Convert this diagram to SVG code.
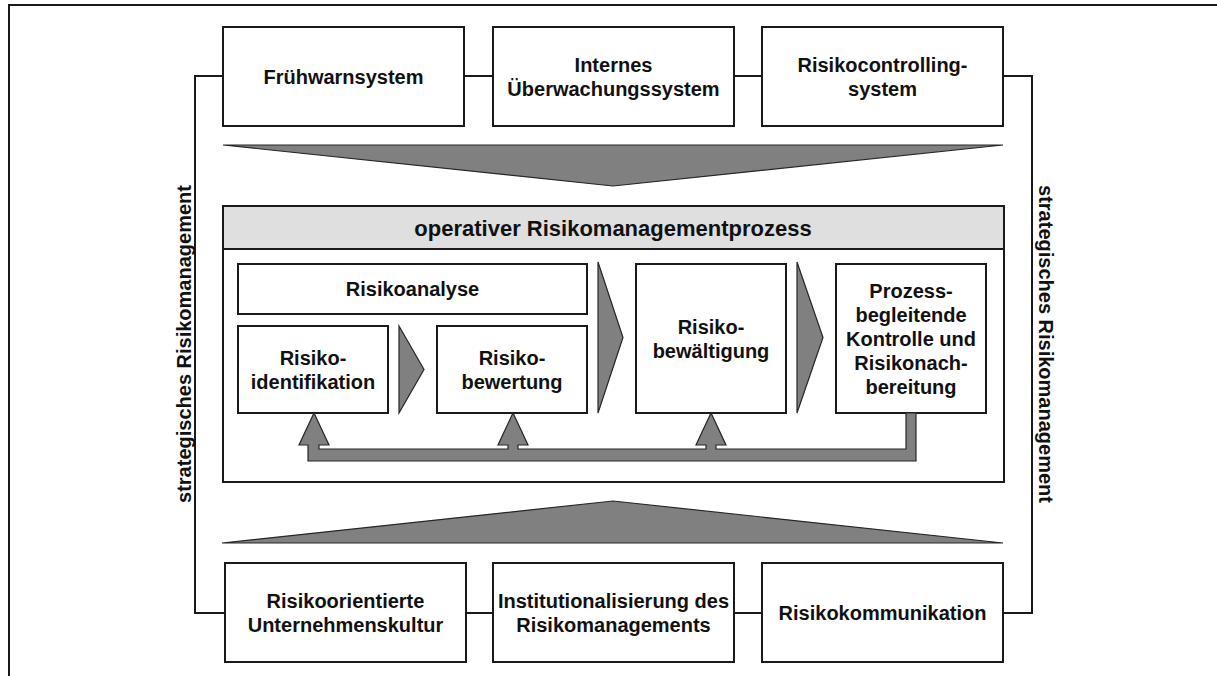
<svg xmlns="http://www.w3.org/2000/svg" width="1217" height="676" viewBox="0 0 1217 676">
<style>
.box{fill:#fff;stroke:#1a1a1a;stroke-width:2}
.hdr{fill:#dfdfdf;stroke:#1a1a1a;stroke-width:2}
.gray{fill:#808080;stroke:#262626;stroke-width:1.2;stroke-linejoin:miter}
.line{fill:none;stroke:#1a1a1a;stroke-width:2}
.t{font-family:"Liberation Sans",Arial,sans-serif;font-weight:bold;font-size:20px;fill:#111;text-anchor:middle}
.h{font-size:22px}
</style>
<rect x="0" y="0" width="1217" height="676" fill="#fff"/>
<path class="line" d="M9,676 V5 H1217"/>
<g id="connectors">
<path class="line" d="M225,613 H195 V76 H223"/>
<path class="line" d="M464,76 H493"/>
<path class="line" d="M734,76 H762"/>
<path class="line" d="M1003,76 H1032 V613 H1003"/>
<path class="line" d="M466,613 H493"/>
<path class="line" d="M734,613 H762"/>
<polygon id="arrow-down" class="gray" points="223,145 1003,145 613,186"/>
<polygon id="arrow-up" class="gray" points="222,543 1003,543 613,501"/>
</g>
<g id="fruehwarnsystem"><rect class="box" x="223" y="27" width="241" height="99"/><text class="t" x="343.5" y="83.7">Frühwarnsystem</text></g>
<g id="ueberwachung"><rect class="box" x="493" y="27" width="241" height="99"/><text class="t" x="613.5" y="71.7">Internes</text><text class="t" x="613.5" y="95.7">Überwachungssystem</text></g>
<g id="controlling"><rect class="box" x="762" y="27" width="241" height="99"/><text class="t" x="882.5" y="71.7">Risikocontrolling-</text><text class="t" x="882.5" y="95.7">system</text></g>
<g id="prozess-main">
<rect class="box" x="223" y="206" width="781" height="276"/>
<rect class="hdr" x="223" y="206" width="781" height="43"/>
<text class="t h" x="613" y="235.5">operativer Risikomanagementprozess</text>
</g>
<g id="risikoanalyse"><rect class="box" x="238" y="264" width="349" height="50"/><text class="t" x="412.5" y="296.2">Risikoanalyse</text></g>
<g id="identifikation"><rect class="box" x="238" y="326" width="150" height="87"/><text class="t" x="313" y="364.6">Risiko-</text><text class="t" x="313" y="388.6">identifikation</text></g>
<g id="bewertung"><rect class="box" x="437" y="326" width="150" height="87"/><text class="t" x="512" y="364.6">Risiko-</text><text class="t" x="512" y="388.6">bewertung</text></g>
<g id="bewaeltigung"><rect class="box" x="636" y="264" width="150" height="149"/><text class="t" x="711" y="333.6">Risiko-</text><text class="t" x="711" y="357.6">bewältigung</text></g>
<g id="kontrolle"><rect class="box" x="836" y="264" width="150" height="149"/>
<text class="t" x="911" y="297.5">Prozess-</text><text class="t" x="911" y="321.5">begleitende</text><text class="t" x="911" y="345.5">Kontrolle und</text><text class="t" x="911" y="369.5">Risikonach-</text><text class="t" x="911" y="393.5">bereitung</text></g>
<g id="flow-arrows">
<polygon class="gray" points="399,326 424,369.5 399,413"/>
<polygon class="gray" points="598,262 623,337.5 598,413"/>
<polygon class="gray" points="797,262 823,337.5 797,413"/>
<path class="gray" d="M314,413 L329,445 L319,445 L319,449 L508,449 L508,445 L498,445 L513,413 L528,445 L518,445 L518,449 L706,449 L706,445 L696,445 L711,413 L726,445 L716,445 L716,449 L906,449 L906,413 L916,413 L916,461 L308,461 L308,445 L299,445 Z"/>
</g>
<g id="kultur"><rect class="box" x="225" y="563" width="241" height="99"/><text class="t" x="345.5" y="607.7">Risikoorientierte</text><text class="t" x="345.5" y="631.7">Unternehmenskultur</text></g>
<g id="institutionalisierung"><rect class="box" x="493" y="563" width="241" height="99"/><text class="t" x="613.5" y="607.7">Institutionalisierung des</text><text class="t" x="613.5" y="631.7">Risikomanagements</text></g>
<g id="kommunikation"><rect class="box" x="762" y="563" width="241" height="99"/><text class="t" x="882.5" y="619.5">Risikokommunikation</text></g>
<g id="strategisch-links"><text class="t" transform="translate(190.5,344) rotate(-90)">strategisches Risikomanagement</text></g>
<g id="strategisch-rechts"><text class="t" transform="translate(1038.5,344) rotate(90)">strategisches Risikomanagement</text></g>
</svg>
